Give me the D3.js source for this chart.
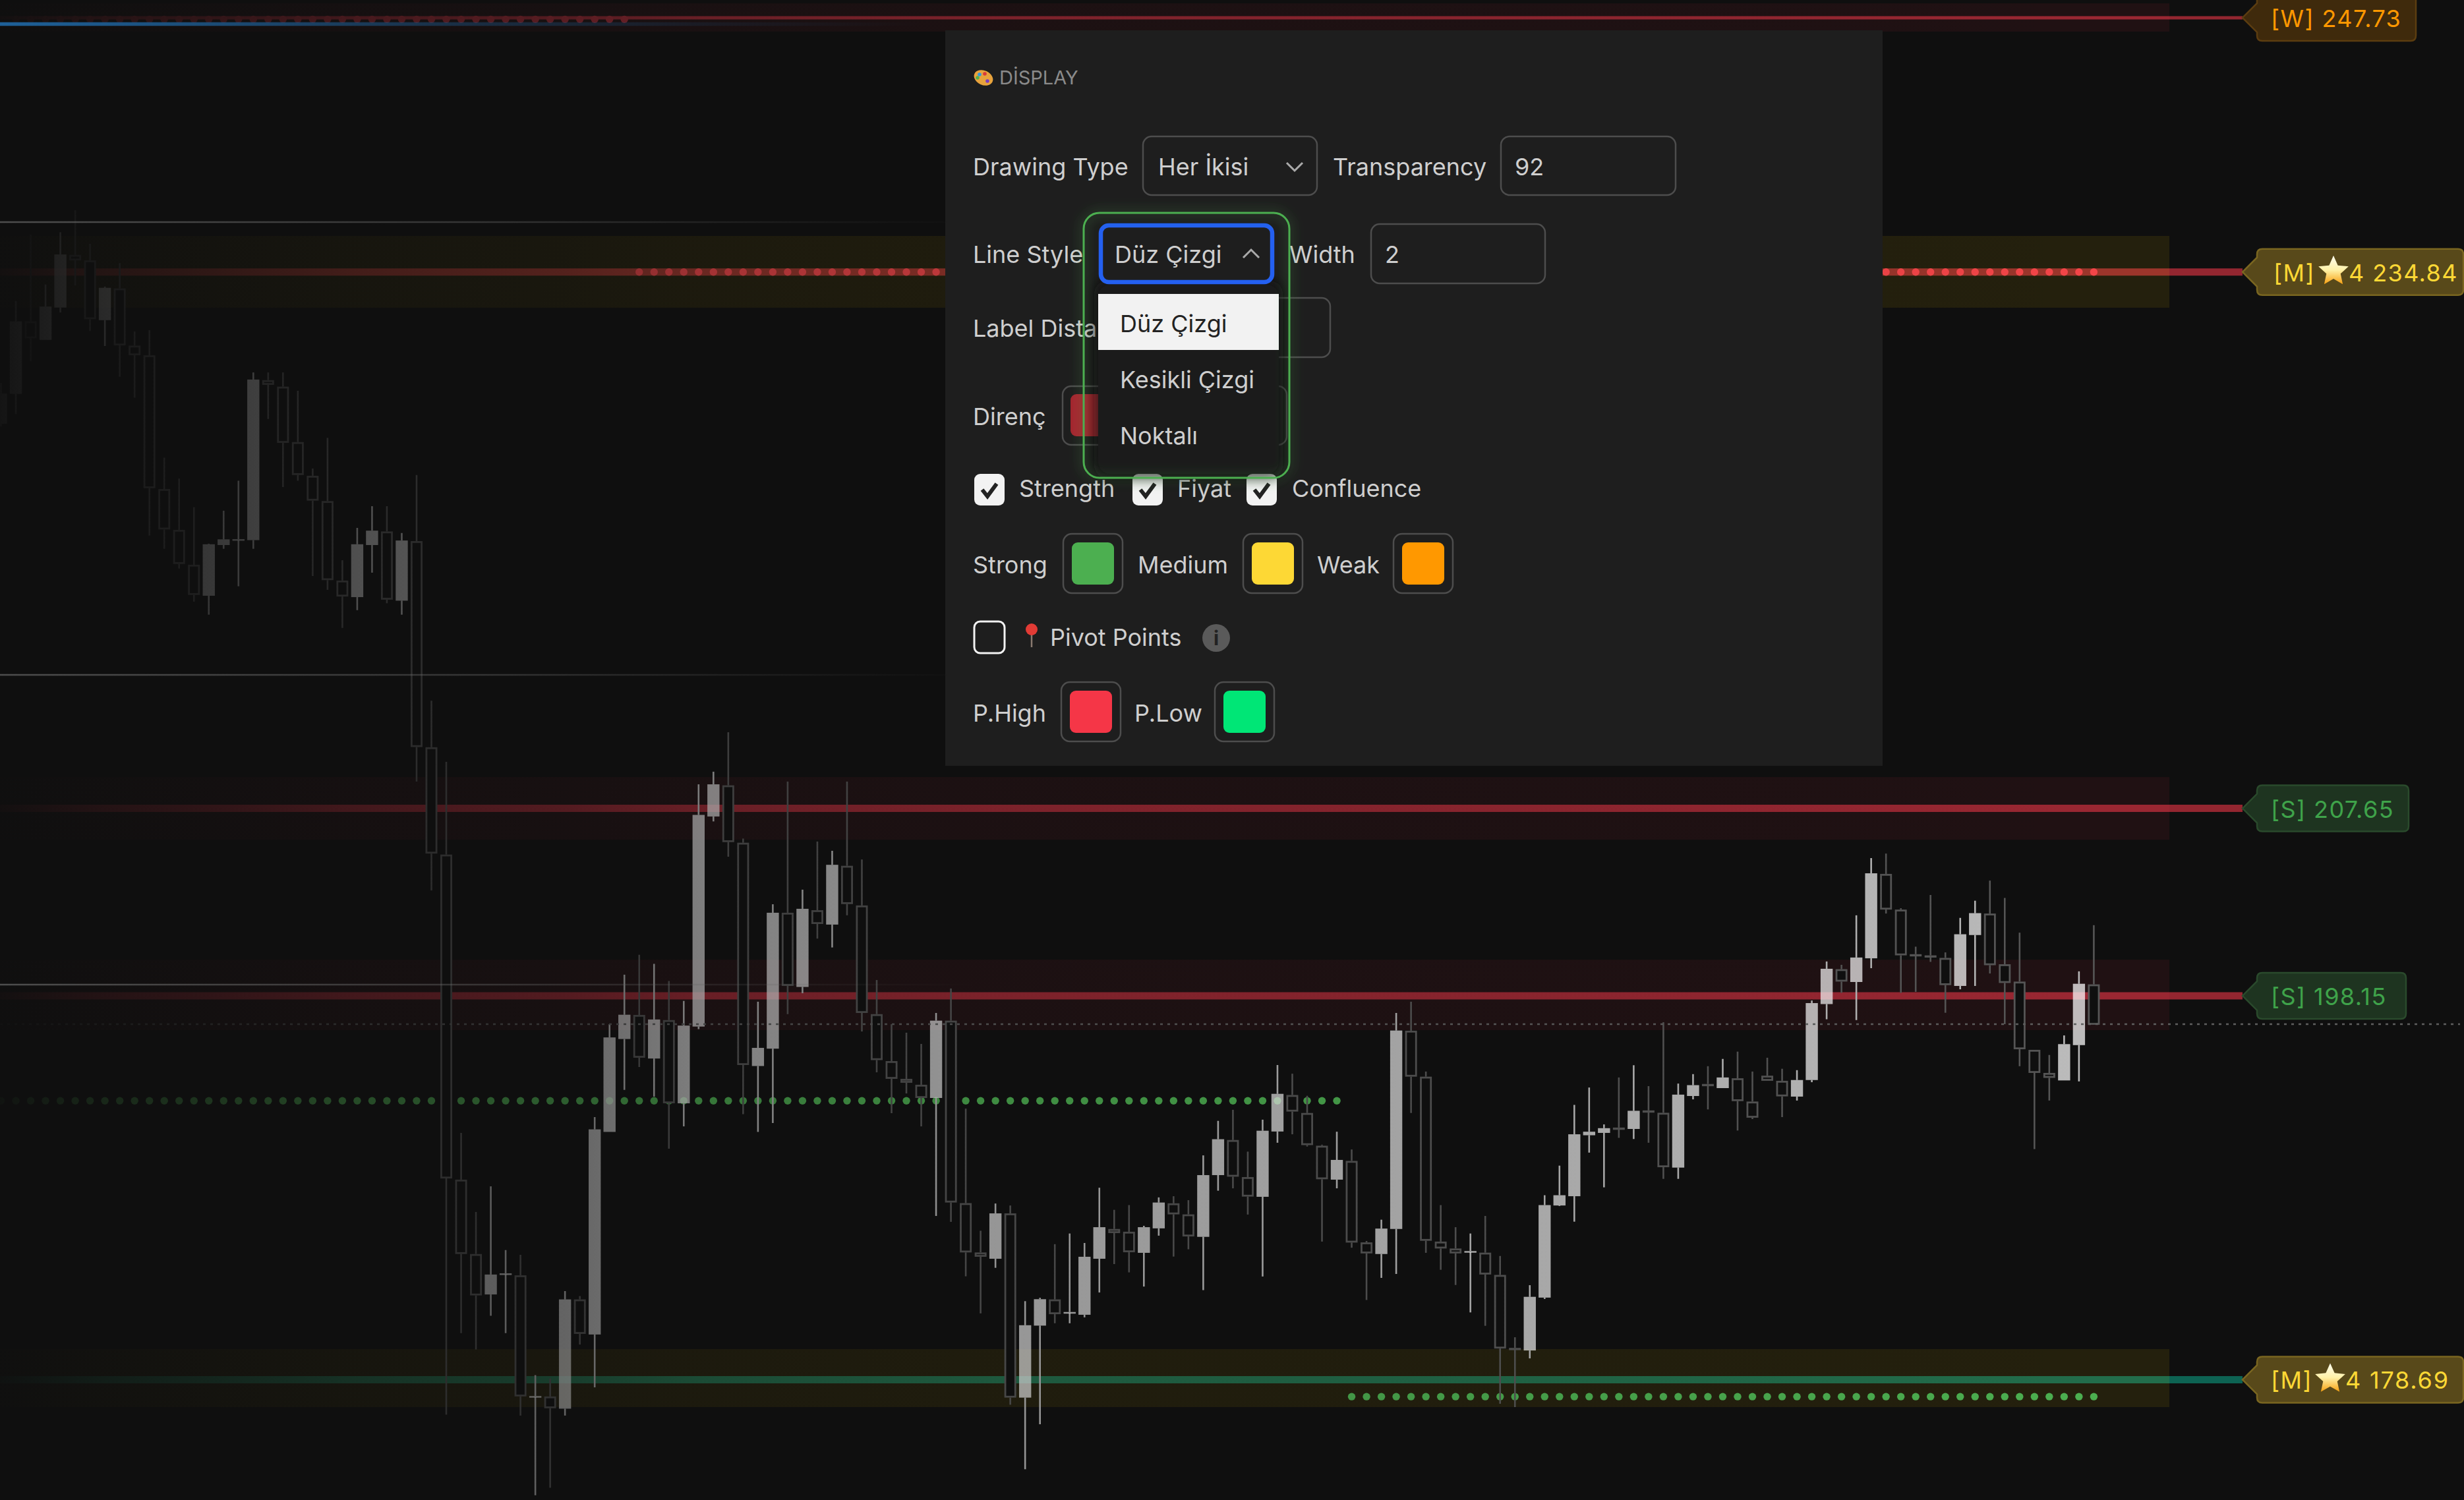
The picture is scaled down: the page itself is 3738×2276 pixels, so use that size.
<!DOCTYPE html>
<html>
<head>
<meta charset="utf-8">
<script src="https://cdn.jsdelivr.net/npm/d3@7"></script>
<style>
  html, body { margin: 0; padding: 0; background: #0f0f0f; }
  svg { display: block; }
  text { font-family: Inter, "Noto Sans", sans-serif; }
</style>
</head>
<body>
<script>
// Width and height
var w = 3738,
    h = 2276;

// OHLC, one value per candle
var opens = [227.15,228.66,232.34,231.40,233.04,235.71,235.43,232.40,234.01,231.11,230.62,223.84,221.77,220.00,218.43,221.00,221.25,221.25,229.36,229.03,
  226.22,224.51,223.23,219.20,218.36,221.00,221.69,218.18,221.20,210.75,205.31,188.83,185.06,183.01,184.04,183.98,177.82,177.84,177.22,182.76,
  180.98,191.25,195.96,197.18,194.97,196.92,192.70,196.59,207.24,208.82,205.91,194.59,195.47,202.36,198.60,202.49,201.76,204.74,202.73,197.22,
  194.84,193.94,193.64,192.97,196.89,187.64,185.14,184.82,187.12,177.78,181.43,182.76,182.07,181.98,184.82,186.33,186.19,185.12,186.36,187.63,
  187.07,185.93,189.06,190.84,188.96,187.96,191.27,193.12,192.21,190.55,188.83,189.78,185.65,185.06,186.33,196.38,194.05,185.69,185.34,185.16,
  185.13,184.00,180.30,180.17,182.85,187.52,187.99,191.08,191.20,191.47,191.40,192.34,192.22,189.44,193.07,193.68,193.47,193.97,192.79,194.10,
  193.84,193.04,193.88,197.73,199.50,198.85,200.05,204.33,202.52,200.26,200.20,200.07,198.65,201.23,202.32,199.75,198.87,195.41,194.24,193.86,
  195.65,198.73];
var highs = [229.22,233.37,236.74,234.21,236.86,237.97,236.27,234.10,235.29,231.83,231.89,225.43,224.37,222.92,221.07,222.74,224.26,229.75,229.75,229.75,
  228.82,224.88,226.43,220.23,221.87,222.97,222.97,221.61,224.55,213.11,210.01,191.20,187.19,188.49,185.26,185.02,178.92,178.75,183.18,182.93,
  192.00,196.71,199.22,200.23,199.77,198.90,197.89,208.87,209.51,211.51,206.12,197.85,202.79,209.01,203.53,205.97,205.50,209.01,205.06,198.95,
  196.71,196.28,195.71,197.28,198.52,192.43,186.24,187.62,187.52,182.67,182.84,185.56,186.10,185.62,188.42,187.30,187.54,186.49,187.93,187.99,
  187.79,190.06,191.81,192.37,190.25,191.87,194.64,194.20,193.08,190.60,191.26,190.36,185.72,186.80,197.28,197.85,194.31,187.54,186.42,186.10,
  186.99,184.96,180.84,183.48,188.04,189.54,192.62,193.50,191.63,194.01,194.63,193.57,196.81,193.70,194.18,194.58,194.95,195.32,194.31,195.01,
  194.45,194.38,197.91,199.89,199.72,202.23,205.13,205.36,202.59,200.64,203.26,200.35,202.10,202.97,203.99,203.11,201.35,195.41,195.15,196.14,
  199.39,201.73];
var lows = [227.01,227.64,230.32,231.40,232.79,234.16,231.85,231.09,229.53,228.47,221.48,220.81,219.81,218.13,217.47,220.81,218.91,220.81,227.39,223.94,
  224.26,219.43,218.73,216.80,217.70,219.60,218.05,217.47,209.01,203.49,176.92,181.05,180.22,181.93,181.05,176.87,172.83,173.21,176.87,180.47,
  178.30,191.25,193.38,194.54,193.04,190.40,191.53,196.46,206.99,205.20,192.15,191.25,191.70,197.22,198.28,201.05,200.60,202.23,196.34,194.27,
  192.20,193.20,191.53,186.99,186.69,183.93,182.05,184.36,177.42,174.15,176.43,181.55,181.55,181.85,183.11,184.55,184.13,183.41,185.99,184.93,
  185.30,183.23,188.27,188.39,187.06,183.92,190.70,191.13,190.51,185.69,188.39,185.38,182.73,183.85,184.05,192.21,185.12,184.26,183.49,182.10,
  181.42,177.47,177.30,179.77,182.78,187.49,186.70,190.20,188.44,190.95,190.89,190.70,188.87,188.87,192.90,192.39,193.47,191.32,191.90,193.84,
  192.00,192.84,193.77,196.96,198.30,196.92,199.55,202.32,198.30,198.35,199.87,197.29,198.48,198.65,199.28,196.71,194.58,190.38,192.84,193.86,
  193.81,196.68];
var closes = [228.68,232.34,231.48,233.09,235.73,235.43,232.45,234.04,231.12,230.62,223.88,221.79,220.04,218.47,221.04,221.29,221.30,229.39,229.12,226.18,
  224.55,223.25,219.22,218.39,221.04,221.73,218.23,221.23,210.76,205.36,188.89,185.06,182.96,184.02,184.08,177.84,177.86,177.24,182.76,181.01,
  191.38,196.04,197.19,195.01,196.95,192.70,196.64,207.32,208.87,205.94,194.64,195.51,202.36,198.65,202.56,201.79,204.79,202.80,197.28,194.89,
  193.94,193.74,192.97,196.89,187.67,185.14,184.92,187.12,177.78,181.45,182.77,182.01,182.12,184.92,186.42,186.12,185.15,186.42,187.67,187.07,
  185.95,189.06,190.88,188.98,187.97,191.31,193.18,192.28,190.58,188.85,189.83,185.64,185.09,186.35,196.39,194.05,185.73,185.34,185.09,185.21,
  184.02,180.27,180.26,182.89,187.54,188.04,191.13,191.26,191.44,191.43,192.32,192.30,189.46,193.14,193.62,193.64,194.01,192.81,191.97,193.84,
  193.05,193.88,197.78,199.52,198.87,200.09,204.36,202.52,200.20,200.22,200.16,198.69,201.27,202.34,199.70,198.80,195.44,194.24,193.99,195.70,
  198.76,196.68];

// Support / resistance levels and their zones
var levelPrices = [247.73, 234.84, 207.65, 198.15, 178.69];
var zoneTops    = [248.46, 236.67, 209.24, 199.98, 180.24];
var zoneBottoms = [247.03, 233.03, 206.06, 196.41, 177.30];
var levelTags   = ['[W] 247.73', '[M] ', '[S] 207.65', '[S] 198.15', '[M] '];
var tagTails    = ['', '4 234.84', '', '', '4 178.69'];
var levelKinds  = ['weak', 'medium', 'strong', 'strong', 'medium'];

// Thin history lines and current price
var historyLines = [237.37, 214.42, 198.72];
var lastPrice = 196.71;
var blueLevel = 247.41;

// Dotted overlays: price, first and last candle
var dotRows = [
  { price: 247.65, from: 1, to: 42, color: '#a52a35' },
  { price: 234.84, from: 43, to: 141, color: '#f44548' },
  { price: 192.83, from: 0, to: 90, color: '#4caf50' },
  { price: 177.83, from: 91, to: 141, color: '#4caf50' }
];

var candles = opens.map(function(o, i) {
  return { i: i, open: o, high: highs[i], low: lows[i], close: closes[i] };
});

// Set scales
var xScale = d3.scaleLinear().domain([0, 141]).range([1.5, 3176.4]);
var yScale = d3.scaleLinear().domain([248.63, 172.59]).range([0, h]);

var zoneEnd = 3291,
    lineEnd = 3402;

var svg = d3.select('body').append('svg')
  .attr('width', w)
  .attr('height', h)
  .attr('viewBox', '0 0 ' + w + ' ' + h);

var defs = svg.append('defs');

function gradient(id, x1, x2, stops) {
  var g = defs.append('linearGradient')
    .attr('id', id)
    .attr('gradientUnits', 'userSpaceOnUse')
    .attr('x1', x1).attr('x2', x2).attr('y1', 0).attr('y2', 0);
  stops.forEach(function(s) {
    g.append('stop')
      .attr('offset', s[0])
      .attr('stop-color', s[1])
      .attr('stop-opacity', s[2]);
  });
}

// left side of the chart fades into the background
var fadeAt = [[0, .97], [90, .9], [158, .85], [315, .77], [540, .63], [857, .51], [1060, .36], [1510, .22], [2400, .11], [3200, 0]];
gradient('fade', 0, 3200, fadeAt.map(function(d) { return [d[0] / 3200, '#0f0f0f', d[1]]; }));
gradient('historyFade', 0, 1480, [[0, '#777', .6], [.5, '#666', .42], [1, '#555', 0]]);
gradient('blueFade', 0, 1400, [[0, '#1e6098', 1], [.25, '#1e6098', .72], [.5, '#1e6098', .38], [.75, '#1e6098', .14], [1, '#1e6098', 0]]);

var starFill = defs.append('linearGradient').attr('id', 'starFill')
  .attr('x1', 0).attr('x2', 0).attr('y1', 0).attr('y2', 1);
starFill.append('stop').attr('offset', 0).attr('stop-color', '#fffdf0');
starFill.append('stop').attr('offset', .5).attr('stop-color', '#fff2a8');
starFill.append('stop').attr('offset', 1).attr('stop-color', '#f7a010');

var softBlur = defs.append('filter').attr('id', 'softBlur')
  .attr('x', '-20%').attr('y', '-20%').attr('width', '140%').attr('height', '140%');
softBlur.append('feGaussianBlur').attr('stdDeviation', 9);

svg.append('rect').attr('width', w).attr('height', h).attr('fill', '#0f0f0f');

var lineColor = ['#932630', '#932630', '#932630', '#932630', '#0d6353'];
var lineWidth = [5, 11, 11, 11, 11];
var zoneFill = { weak: 'rgb(244,54,71)', strong: 'rgb(244,54,71)', medium: 'rgb(255,215,0)' };
var zoneAlpha = { weak: .08, strong: .08, medium: .09 };

// Levels go under the zones so the zone tints them
svg.append('g').selectAll('line')
  .data(levelPrices)
  .join('line')
  .attr('x1', 0)
  .attr('x2', lineEnd)
  .attr('y1', function(d) { return yScale(d); })
  .attr('y2', function(d) { return yScale(d); })
  .attr('stroke', function(d, i) { return lineColor[i]; })
  .attr('stroke-width', function(d, i) { return lineWidth[i]; });

svg.append('g').selectAll('rect')
  .data(levelPrices)
  .join('rect')
  .attr('x', 0)
  .attr('width', zoneEnd)
  .attr('y', function(d, i) { return yScale(zoneTops[i]); })
  .attr('height', function(d, i) { return yScale(zoneBottoms[i]) - yScale(zoneTops[i]); })
  .attr('fill', function(d, i) { return zoneFill[levelKinds[i]]; })
  .attr('fill-opacity', function(d, i) { return zoneAlpha[levelKinds[i]]; });

// One dot per candle
dotRows.forEach(function(row) {
  svg.append('g').selectAll('circle')
    .data(d3.range(row.from, row.to + 1))
    .join('circle')
    .attr('cx', function(d) { return xScale(d); })
    .attr('cy', yScale(row.price))
    .attr('r', 5.7)
    .attr('fill', row.color);
});

// Candles: filled when up, hollow when down
var up = function(d) { return d.close >= d.open; };
var candleG = svg.append('g').selectAll('g')
  .data(candles)
  .join('g');

function wick(from, to) {
  candleG.append('line')
    .attr('x1', function(d) { return xScale(d.i); })
    .attr('x2', function(d) { return xScale(d.i); })
    .attr('y1', from)
    .attr('y2', to)
    .attr('stroke', function(d) { return up(d) ? '#b8b8b8' : '#565656'; })
    .attr('stroke-width', 2.6);
}
wick(function(d) { return yScale(d.high); }, function(d) { return yScale(Math.max(d.open, d.close)); });
wick(function(d) { return yScale(Math.min(d.open, d.close)); }, function(d) { return yScale(d.low); });

candleG.append('rect')
  .attr('x', function(d) { return xScale(d.i) - (up(d) ? 9.2 : 7.6); })
  .attr('width', function(d) { return up(d) ? 18.4 : 15.2; })
  .attr('y', function(d) {
    var top = yScale(Math.max(d.open, d.close));
    return up(d) ? top : top + 1.4;
  })
  .attr('height', function(d) {
    var bh = Math.abs(yScale(d.open) - yScale(d.close));
    return up(d) ? Math.max(bh, 2.5) : Math.max(bh - 2.8, .6);
  })
  .attr('fill', function(d) { return up(d) ? '#fff' : '#0f0f0f'; })
  .attr('fill-opacity', function(d) { return up(d) ? .72 : 1; })
  .attr('stroke', function(d) { return up(d) ? 'none' : '#565656'; })
  .attr('stroke-width', 2.8);

// Current price
svg.append('line')
  .attr('x1', 0).attr('x2', 3732)
  .attr('y1', yScale(lastPrice)).attr('y2', yScale(lastPrice))
  .attr('stroke', '#5e5e5e')
  .attr('stroke-width', 2.6)
  .attr('stroke-dasharray', '4 7');

// Fade
svg.append('rect')
  .attr('width', 3200).attr('height', h)
  .attr('fill', 'url(#fade)');

svg.append('g').selectAll('line')
  .data(historyLines)
  .join('line')
  .attr('x1', 0).attr('x2', 1480)
  .attr('y1', function(d) { return yScale(d); })
  .attr('y2', function(d) { return yScale(d) + .01; })
  .attr('stroke', 'url(#historyFade)')
  .attr('stroke-width', 2.5);

svg.append('line')
  .attr('x1', 0).attr('x2', 1400)
  .attr('y1', yScale(blueLevel)).attr('y2', yScale(blueLevel) + .01)
  .attr('stroke', 'url(#blueFade)')
  .attr('stroke-width', 5.3);

// Price tags
var tagStyle = {
  weak: { fill: '#3f2a0c', stroke: '#5c3d10', text: '#ff9800', right: 3665 },
  strong: { fill: '#1e3420', stroke: '#2a4a2c', text: '#3fa34a', right: 3654 },
  medium: { fill: '#58491a', stroke: '#7a6620', text: '#fdd835', right: 3737 }
};

function starPath(cx, cy, R) {
  var pts = d3.range(10).map(function(k) {
    var r = k % 2 ? R * .47 : R,
        a = -Math.PI / 2 + k * Math.PI / 5;
    return [cx + r * Math.cos(a), cy + r * Math.sin(a)];
  });
  return d3.line()(pts) + 'Z';
}

levelPrices.forEach(function(p, i) {
  var kind = levelKinds[i],
      st = tagStyle[kind],
      yc = yScale(p),
      top = yc - 35,
      bot = yc + 35,
      right = i === 3 ? 3650 : st.right,
      g = svg.append('g');
  g.append('path')
    .attr('d', 'M3402,' + yc + 'L3424,' + (yc - 22) + 'V' + (top + 8) + 'Q3424,' + top + ' 3432,' + top +
      'H' + (right - 8) + 'Q' + right + ',' + top + ' ' + right + ',' + (top + 8) +
      'V' + (bot - 8) + 'Q' + right + ',' + bot + ' ' + (right - 8) + ',' + bot +
      'H3432Q3424,' + bot + ' 3424,' + (bot - 8) + 'V' + (yc + 22) + 'Z')
    .attr('fill', st.fill)
    .attr('stroke', st.stroke)
    .attr('stroke-width', 2.5);
  g.append('text')
    .attr('x', i === 1 ? 3449 : 3445)
    .attr('y', yc + 14)
    .attr('font-size', 36)
    .attr('letter-spacing', 1.4)
    .attr('fill', st.text)
    .text(levelTags[i]);
  if (tagTails[i]) {
    var starX = i === 1 ? 3540 : 3535;
    g.append('path')
      .attr('d', starPath(starX, yc - 1, 24))
      .attr('fill', 'url(#starFill)');
    g.append('text')
      .attr('x', starX + 23)
      .attr('y', yc + 14)
      .attr('font-size', 36)
      .attr('letter-spacing', i === 1 ? 1.4 : 1.8)
      .attr('fill', st.text)
      .text(tagTails[i]);
  }
});

// Settings panel
var panel = svg.append('g');
panel.append('rect')
  .attr('x', 1434).attr('y', 46)
  .attr('width', 1422).attr('height', 1116)
  .attr('fill', '#1e1e1e');

function label(x, y, str, color, size) {
  return panel.append('text')
    .attr('x', x)
    .attr('y', y + (size || 36) * .36)
    .attr('font-size', size || 36)
    .attr('fill', color || '#cfcfcf')
    .text(str);
}

function box(x1, y1, x2, y2) {
  return panel.append('rect')
    .attr('x', x1).attr('y', y1)
    .attr('width', x2 - x1).attr('height', y2 - y1)
    .attr('rx', 13)
    .attr('fill', 'none')
    .attr('stroke', '#4d4d4d')
    .attr('stroke-width', 2.5);
}

function swatch(x1, y1, color) {
  box(x1, y1, x1 + 90, y1 + 90);
  panel.append('rect')
    .attr('x', x1 + 13).attr('y', y1 + 13)
    .attr('width', 64).attr('height', 64)
    .attr('rx', 9)
    .attr('fill', color);
}

function chevron(cx, cy, dir) {
  panel.append('path')
    .attr('d', d3.line()([[cx - 12, cy - 6 * dir], [cx, cy + 6 * dir], [cx + 12, cy - 6 * dir]]))
    .attr('fill', 'none')
    .attr('stroke', '#aaa')
    .attr('stroke-width', 3);
}

function checkbox(x, y, checked) {
  panel.append('rect')
    .attr('x', x).attr('y', y)
    .attr('width', 46).attr('height', 48)
    .attr('rx', 9)
    .attr('fill', checked ? '#f2f2f2' : 'none')
    .attr('stroke', '#f2f2f2')
    .attr('stroke-width', checked ? 0 : 3);
  if (checked) {
    panel.append('path')
      .attr('d', d3.line()([[x + 12, y + 24], [x + 20, y + 34], [x + 34, y + 15]]))
      .attr('fill', 'none')
      .attr('stroke', '#222')
      .attr('stroke-width', 6);
  }
}

// palette and heading
panel.append('ellipse')
  .attr('cx', 1492).attr('cy', 118).attr('rx', 15).attr('ry', 11)
  .attr('transform', 'rotate(25 1492 118)')
  .attr('fill', '#e8a33d');
[['#2f9ae0', 1486, 113], ['#d93a3a', 1494, 112], ['#54b04a', 1483, 118], ['#7a3fc0', 1498, 123]].forEach(function(c) {
  panel.append('circle').attr('cx', c[1]).attr('cy', c[2]).attr('r', 2.8).attr('fill', c[0]);
});
label(1516, 118, 'DİSPLAY', '#8a8a8a', 29);

// row 1
label(1476, 253, 'Drawing Type');
box(1734, 207, 1998, 296);
label(1757, 253, 'Her İkisi');
chevron(1964, 253, 1);
label(2022, 253, 'Transparency');
box(2277, 207, 2542, 296);
label(2298, 253, '92');

// row 2
label(1476, 386, 'Line Style');
label(1956, 386, 'Width');
box(2080, 340, 2344, 430);
label(2101, 386, '2');

// row 3
label(1476, 498, 'Label Dista');
box(1760, 452, 2018, 542);

// row 4
label(1476, 632, 'Direnç');
box(1612, 586, 1952, 675);
panel.append('rect')
  .attr('x', 1624).attr('y', 598).attr('width', 64).attr('height', 64).attr('rx', 9)
  .attr('fill', '#a5252f');

// checkboxes
checkbox(1478, 719, true);
label(1546, 741, 'Strength');
checkbox(1718, 719, true);
label(1786, 741, 'Fiyat');
checkbox(1891, 719, true);
label(1960, 741, 'Confluence');

// colours
label(1476, 857, 'Strong');
swatch(1613, 810, '#4caf50');
label(1726, 857, 'Medium');
swatch(1886, 810, '#fdd835');
label(1998, 857, 'Weak');
swatch(2114, 810, '#ff9800');

// pivot points
checkbox(1478, 943, false);
panel.append('line')
  .attr('x1', 1565).attr('x2', 1565).attr('y1', 958).attr('y2', 982)
  .attr('stroke', '#8a7a70').attr('stroke-width', 2.5);
panel.append('circle').attr('cx', 1565).attr('cy', 955).attr('r', 9).attr('fill', '#e23b35');
label(1593, 967, 'Pivot Points');
panel.append('circle').attr('cx', 1845).attr('cy', 968).attr('r', 21).attr('fill', '#5a5a5a');
panel.append('text')
  .attr('x', 1845).attr('y', 979).attr('text-anchor', 'middle')
  .attr('font-size', 30).attr('font-weight', 700).attr('fill', '#222').text('i');

// pivot colours
label(1476, 1082, 'P.High');
swatch(1610, 1035, '#f53647');
label(1721, 1082, 'P.Low');
swatch(1843, 1035, '#00e676');

// open dropdown
panel.append('rect')
  .attr('x', 1660).attr('y', 426).attr('width', 286).attr('height', 300).attr('rx', 20)
  .attr('fill', '#0c0c0c').attr('opacity', .7)
  .attr('filter', 'url(#softBlur)');
panel.append('rect')
  .attr('x', 1666).attr('y', 432).attr('width', 274).attr('height', 287).attr('rx', 18)
  .attr('fill', '#1b1b1b');
panel.append('rect')
  .attr('x', 1666).attr('y', 446).attr('width', 274).attr('height', 85)
  .attr('fill', '#f2f2f2');
label(1699, 491, 'Düz Çizgi', '#222');
label(1699, 576, 'Kesikli Çizgi');
label(1699, 661, 'Noktalı');

panel.append('rect')
  .attr('x', 1670).attr('y', 342).attr('width', 260).attr('height', 86).attr('rx', 12)
  .attr('fill', '#1e1e1e')
  .attr('stroke', '#2460f0')
  .attr('stroke-width', 6.5);
label(1691, 386, 'Düz Çizgi');
chevron(1898, 385, -1);

// glow round the green outline
panel.append('rect')
  .attr('x', 1644).attr('y', 323).attr('width', 312).attr('height', 402).attr('rx', 24)
  .attr('fill', 'none')
  .attr('stroke', '#4caf50')
  .attr('stroke-opacity', .25)
  .attr('stroke-width', 9)
  .attr('filter', 'url(#softBlur)');
panel.append('rect')
  .attr('x', 1644).attr('y', 323).attr('width', 312).attr('height', 402).attr('rx', 24)
  .attr('fill', 'none')
  .attr('stroke', '#4caf50')
  .attr('stroke-width', 3);
</script>
</body>
</html>
